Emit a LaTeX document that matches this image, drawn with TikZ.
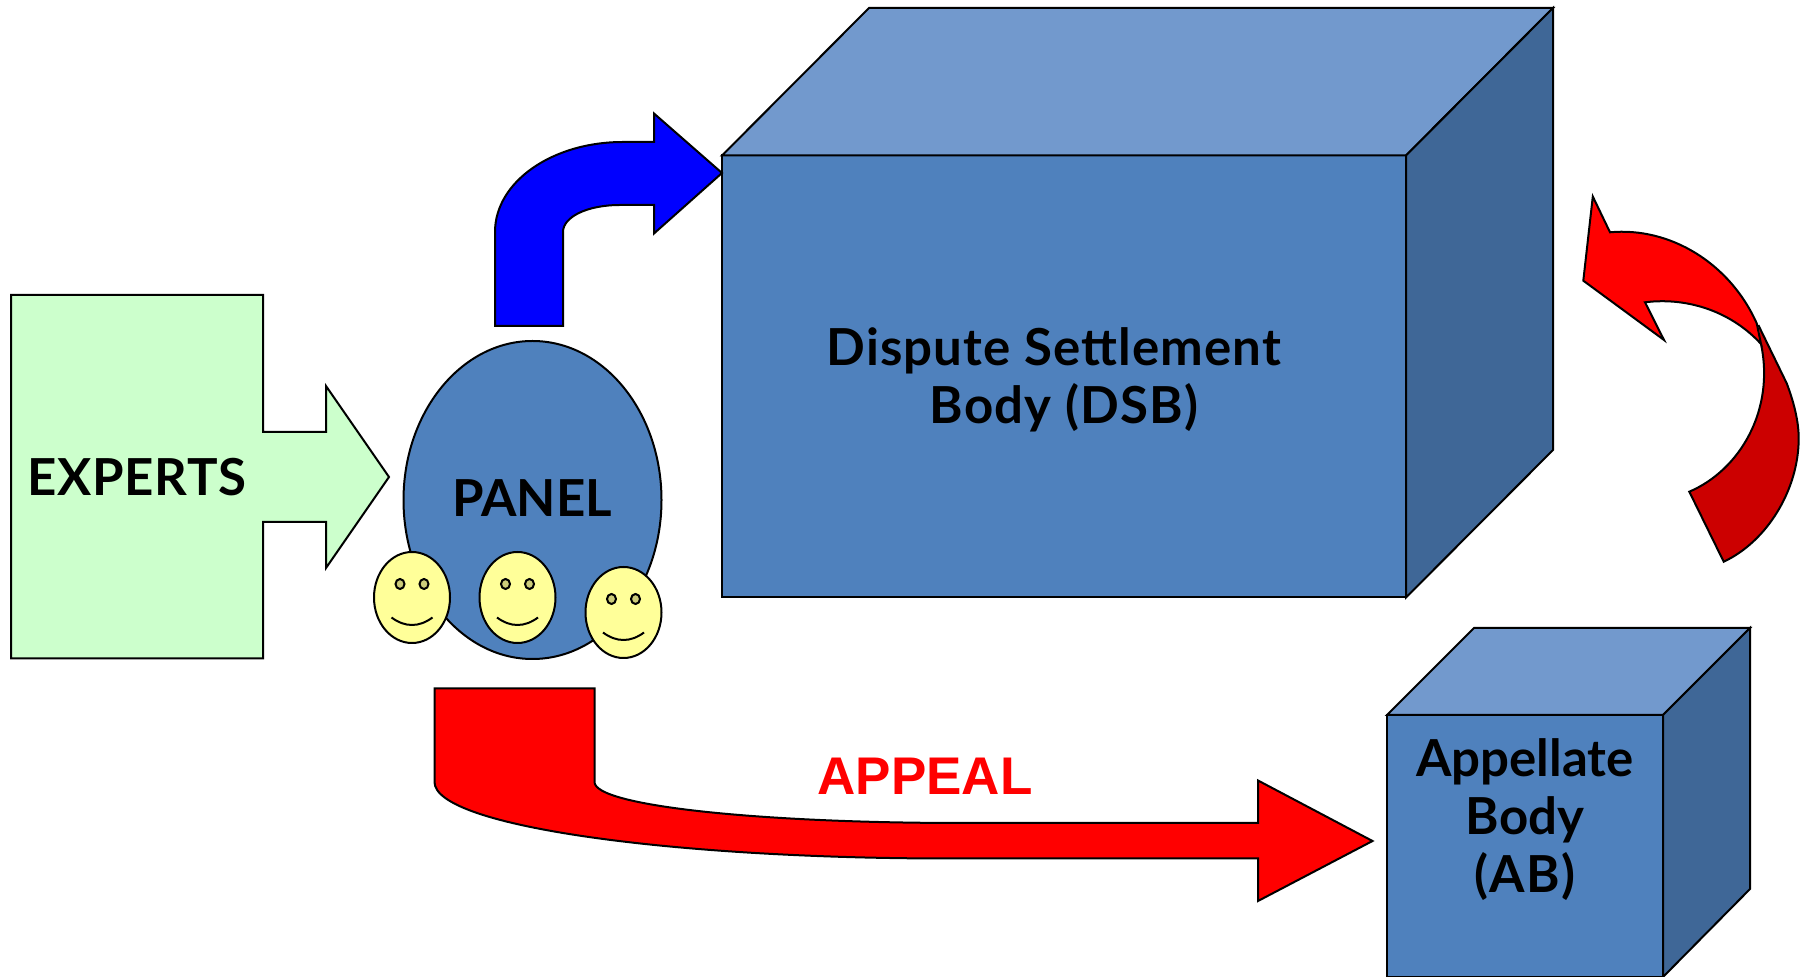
\documentclass[tikz,border=0pt]{standalone}
\usepackage{fontspec}
\setmainfont{Lato}
\newfontfamily\arialfont{Liberation Sans}
\definecolor{cubefront}{HTML}{4F81BD}
\definecolor{cubetop}{HTML}{7299CD}
\definecolor{cubeside}{HTML}{3F6797}
\definecolor{expertgreen}{HTML}{CCFFCC}
\definecolor{faceyellow}{HTML}{FFFF99}
\definecolor{eyecolor}{HTML}{CCCC7A}
\definecolor{darkred}{HTML}{CC0000}
\tikzset{
  outl/.style={draw=black,line width=1pt,line join=miter},
  bigtext/.style={font=\fontsize{25.5}{30}\selectfont\bfseries,text=black,inner sep=0pt,align=center},
  facestyle/.style={outl,fill=faceyellow},
}
\begin{document}
\begin{tikzpicture}[x=0.5pt,y=-0.5pt]
\useasboundingbox (0,0) rectangle (1806,977);
% big cube
\draw[outl,fill=cubefront] (722,155.5) rectangle (1406,597.5);
\draw[outl,fill=cubetop] (722,155.5) -- (869,8) -- (1553,8) -- (1406,155.5) -- cycle;
\draw[outl,fill=cubeside] (1406,155.5) -- (1553,8) -- (1553,450) -- (1406,597.5) -- cycle;
\node[bigtext] (dsb1) at (1054,351) {\addfontfeature{LetterSpace=2.2}Dispute Settlement};
\node[bigtext] (dsb2) at (1064,408) {\addfontfeature{LetterSpace=2.2}Body (DSB)};
% small cube
\draw[outl,fill=cubefront] (1387,715) rectangle (1663,977);
\draw[outl,fill=cubetop] (1387,715) -- (1474,628) -- (1750,628) -- (1663,715) -- cycle;
\draw[outl,fill=cubeside] (1663,715) -- (1750,628) -- (1750,889) -- (1663,977) -- cycle;
\node[bigtext] (ab1) at (1525,762) {Appellate};
\node[bigtext] (ab2) at (1525,820) {Body};
\node[bigtext] (ab3) at (1525,877) {\addfontfeature{LetterSpace=3}(AB)};
% experts arrow
\draw[outl,fill=expertgreen] (11,295) -- (263,295) -- (263,432) -- (326,432) -- (326,386) -- (389,477) -- (326,568) -- (326,522) -- (263,522) -- (263,658.5) -- (11,658.5) -- cycle;
\node[bigtext] (experts) at (137,477) {\addfontfeature{LetterSpace=1.5}EXPERTS};
% panel
\draw[outl,fill=cubefront] (532.5,500) ellipse [x radius=129,y radius=159];
\node[bigtext] (panel) at (532,498) {PANEL};
% faces
\foreach \cx/\cy in {412/597.5,517.5/597.5,623.5/612.5}{
  \draw[facestyle] (\cx,\cy) ellipse [x radius=38,y radius=45.5];
  \draw[outl,fill=eyecolor] (\cx-12,\cy-13.5) ellipse [x radius=4.5,y radius=5];
  \draw[outl,fill=eyecolor] (\cx+12,\cy-13.5) ellipse [x radius=4.5,y radius=5];
  \draw[outl] (\cx-20.5,\cy+20) .. controls (\cx-7,\cy+30) and (\cx+7,\cy+30) .. (\cx+20.5,\cy+20);
}
% blue arrow
\draw[outl,fill=blue] (495,326) -- (495,232) .. controls (495,182) and (552,142) .. (623,142) -- (654,142) -- (654,113.5) -- (722,173) -- (654,233.5) -- (654,205) -- (620,205) .. controls (587,205) and (563,217) .. (563,232) -- (563,326) -- cycle;
% appeal arrow
\draw[outl,fill=red] (434.5,688.5) -- (594.5,688.5) -- (594.5,782) .. controls (594.5,806) and (760,823) .. (962,823) -- (1258,823) -- (1258,780.5) -- (1372.5,841) -- (1258,901) -- (1258,858.5) -- (949,858.5) .. controls (670,858.5) and (434.5,826) .. (434.5,782) -- cycle;
\node[font=\arialfont\fontsize{26.5}{30}\selectfont\bfseries,text=red,inner sep=0pt] (appeal) at (925,776) {APPEAL};
% curved arrow: dark part
\draw[outl,fill=darkred] (1758.3,325) -- (1786.7,383.3) .. controls (1793,400) and (1798.7,420) .. (1798.7,438.3) .. controls (1798.7,490) and (1766.7,541.7) .. (1723.7,561.7) -- (1689.3,491.7) .. controls (1740,470) and (1775,410) .. (1761,344);
% curved arrow: light part
\draw[outl,fill=red] (1610,232.3) .. controls (1670,226.7) and (1730,263.3) .. (1756.7,323.3) -- (1761,344) .. controls (1733,313.3) and (1690,296.7) .. (1645,302.3) -- (1664,340) -- (1583.3,280.7) -- (1592.8,196.5) -- cycle;
\end{tikzpicture}
\end{document}
